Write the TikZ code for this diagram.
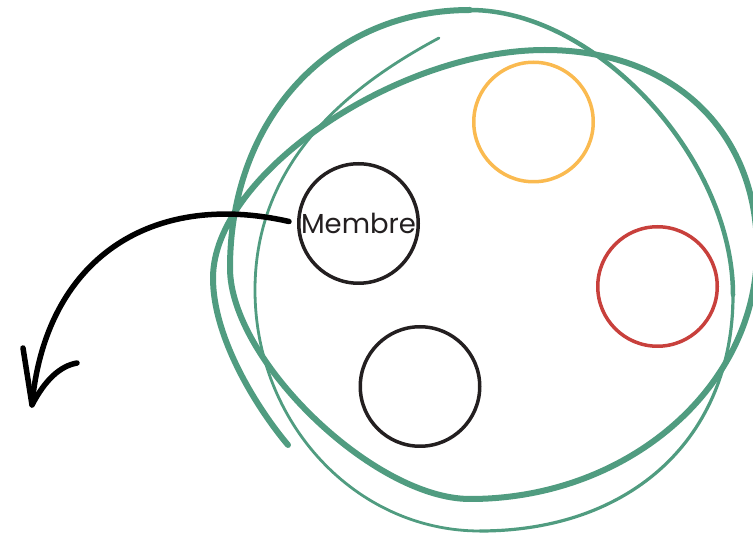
\documentclass[tikz,border=0pt]{standalone}
\usepackage{fontspec}
\setmainfont{Poppins}
\usetikzlibrary{arrows.meta}
\definecolor{groupgreen}{RGB}{80,156,128}
\definecolor{inkblack}{RGB}{35,31,32}
\definecolor{memberorange}{RGB}{250,186,80}
\definecolor{memberred}{RGB}{200,64,60}

\begin{document}
\begin{tikzpicture}[x=1pt, y=-1pt, line cap=round, line join=round,
    member/.style={circle, draw, line width=3.5pt, minimum size=119.5pt, inner sep=0pt,
      font=\fontsize{27.5}{32}\selectfont, text=inkblack},
    scribble/.style={groupgreen, line width=#1}]
    % 画布大小
    \useasboundingbox (0,0) rectangle (753,534);

    % 螺旋的端点和极点
    \coordinate (s0) at (288,445);
    \coordinate (bL) at (213,278);
    \coordinate (bT) at (545,50);
    \coordinate (bR) at (757,250);
    \coordinate (bB) at (470,499);
    \coordinate (aL) at (230,268);
    \coordinate (aT) at (470,10);
    \coordinate (aR) at (733,295);
    \coordinate (aB) at (480,531);
    \coordinate (cL) at (255,290);
    \coordinate (s1) at (439,38);

    % 外圈手绘螺旋, 线宽由粗到细
    \draw[scribble=6pt] (s0) .. controls (260,412) and (213,340) .. (bL)
      .. controls (213,175) and (396,50) .. (bT)
      .. controls (672,50) and (757,130) .. (bR)
      .. controls (757,387) and (628,499) .. (bB)
      .. controls (374,499) and (230,360) .. (aL)
      .. controls (230,118) and (331,10) .. (aT);
    \draw[scribble=4.5pt] (aT) .. controls (596,10) and (733,158) .. (aR);
    \draw[scribble=3.2pt] (aR) .. controls (733,437) and (632,531) .. (aB);
    \draw[scribble=2.8pt] (aB) .. controls (356,531) and (255,423) .. (cL)
      .. controls (255,160) and (351,85) .. (s1);

    % 成员
    \node[member, draw=memberorange] (orange) at (533.5,122) {};
    \node[member, draw=inkblack] (membre) at (358.5,223.5) {Membre};
    \node[member, draw=memberred] (red) at (657.5,286.5) {};
    \node[member, draw=inkblack] (lower) at (420,386.5) {};

    % 箭头
    \coordinate (tip) at (32,405);
    \coordinate (barbL) at (23,348);
    \coordinate (barbR) at (77,363);
    \draw[line width=5.5pt] ([xshift=-8pt, yshift=2pt]membre.west)
      .. controls (150,190) and (45,260) .. (tip);
    \draw[line width=5.5pt] (barbL) -- (tip) .. controls (45,380) and (60,366) .. (barbR);

\end{tikzpicture}
\end{document}
